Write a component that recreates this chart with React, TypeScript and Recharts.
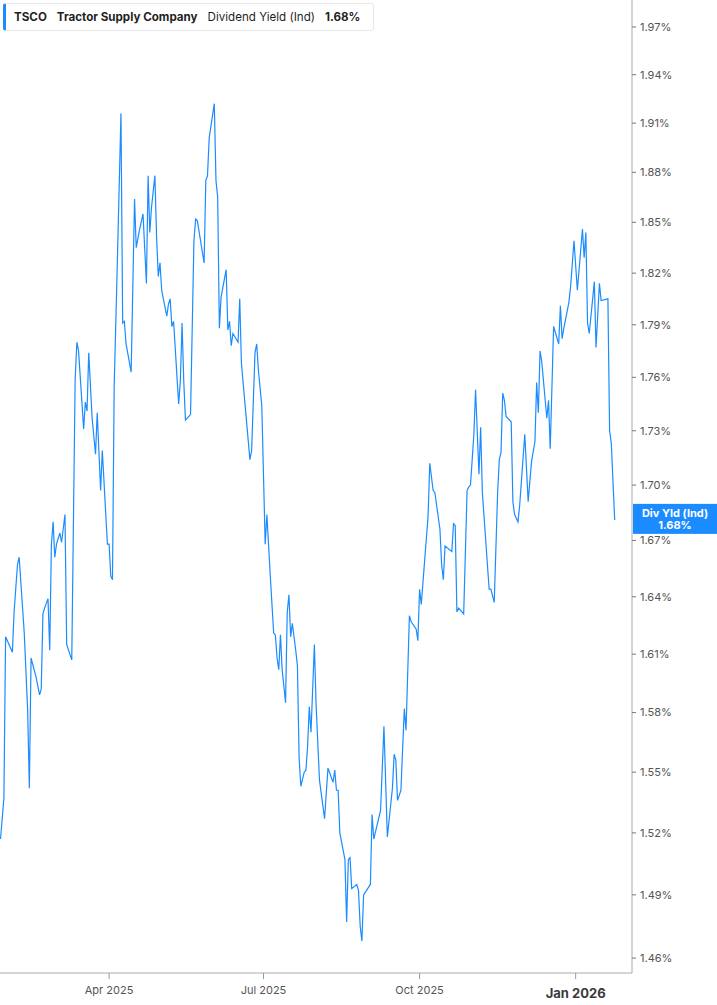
import { LineChart, Line, XAxis, YAxis, ReferenceLine } from 'recharts';

// day offsets from Jan 27 2025 (calendar days)
const days = [
  0, 2, 3, 7, 8, 10, 11, 14, 16, 17, 18, 21, 23, 24, 25, 26, 28, 29, 30, 31,
  32, 33, 35, 36, 38, 39, 42, 44, 45, 46, 49, 50, 51, 52, 54, 56, 57, 59, 60, 63,
  64, 65, 66,
  67, 69, 71, 72, 73, 74, 77, 79, 80, 82, 84, 86, 87, 88, 89, 91, 92, 93, 94, 95,
  98, 99, 100, 101, 102, 105, 106, 107, 108, 109, 112, 114, 115, 116, 120, 121, 122, 123, 126, 127,
  128, 129, 130, 133, 134, 135, 136, 137, 140, 141, 142, 144, 147,
  148, 150, 151, 152, 154, 156, 157, 159, 161, 162, 163, 164, 165, 166, 168, 169, 170, 171, 172, 174,
  175, 176, 177, 179, 180, 181, 182, 183, 185, 186, 188, 191, 193, 196, 197, 198, 199, 200, 203, 204,
  205, 206, 207, 210, 211, 212, 213, 214, 218, 219, 220, 224, 226, 228,
  231, 232, 233, 234, 236, 238, 239, 241, 242, 245, 246, 247, 248, 252, 253, 255, 256, 259, 260, 261,
  262, 266, 267, 268, 269, 270, 273, 275, 276, 277, 279, 280, 282, 283, 284, 288, 289, 291, 293, 294,
  295, 296, 297, 298, 301, 302, 303, 305,
  306, 309, 311, 313, 315, 316, 317, 318, 319, 322, 323, 324, 326, 329, 330, 331, 332, 335, 336, 338,
  340, 343, 344, 345, 346, 347, 350, 351, 353, 354, 358, 359, 360, 362,
];

const yields = [
  1.517, 1.537, 1.619, 1.611, 1.632, 1.657, 1.661, 1.621, 1.581, 1.542,
  1.608, 1.598, 1.589, 1.592, 1.631, 1.634, 1.639, 1.612, 1.668, 1.68,
  1.661, 1.668, 1.674, 1.669, 1.684, 1.615, 1.607, 1.759, 1.78, 1.775,
  1.731, 1.746, 1.741, 1.774, 1.737, 1.717, 1.74, 1.697, 1.719, 1.668,
  1.668, 1.651, 1.649,
  1.755, 1.832, 1.916, 1.791, 1.792, 1.779, 1.763, 1.864, 1.835, 1.846,
  1.855, 1.814, 1.878, 1.844, 1.859, 1.878, 1.841, 1.818, 1.826, 1.81,
  1.795, 1.802, 1.805, 1.789, 1.792, 1.745, 1.758, 1.791, 1.758, 1.736,
  1.739, 1.839, 1.852, 1.851, 1.826, 1.875, 1.878, 1.901, 1.922, 1.875,
  1.865, 1.788, 1.806, 1.822, 1.787, 1.792, 1.778, 1.785, 1.78, 1.805,
  1.768, 1.746, 1.714,
  1.719, 1.774, 1.779, 1.764, 1.744, 1.668, 1.684, 1.651, 1.621, 1.62,
  1.608, 1.602, 1.62, 1.602, 1.585, 1.632, 1.641, 1.619, 1.626, 1.612,
  1.604, 1.557, 1.543, 1.55, 1.551, 1.563, 1.583, 1.57, 1.615, 1.584,
  1.546, 1.527, 1.552, 1.545, 1.551, 1.541, 1.541, 1.52, 1.507, 1.477,
  1.507, 1.508, 1.493, 1.495, 1.492, 1.475, 1.468, 1.49, 1.495, 1.529,
  1.517, 1.531, 1.573, 1.518,
  1.542, 1.559, 1.556, 1.536, 1.541, 1.582, 1.571, 1.63, 1.627, 1.623,
  1.617, 1.644, 1.636, 1.683, 1.712, 1.697, 1.696, 1.676, 1.657, 1.649,
  1.667, 1.664, 1.679, 1.678, 1.632, 1.634, 1.631, 1.697, 1.699, 1.7,
  1.728, 1.753, 1.706, 1.732, 1.696, 1.644, 1.644, 1.637, 1.696, 1.714,
  1.718, 1.751, 1.747, 1.738, 1.735, 1.691, 1.684, 1.68,
  1.689, 1.728, 1.691, 1.713, 1.724, 1.757, 1.74, 1.775, 1.769, 1.737,
  1.747, 1.72, 1.789, 1.779, 1.801, 1.782, 1.788, 1.803, 1.812, 1.839,
  1.81, 1.846, 1.829, 1.844, 1.791, 1.785, 1.815, 1.777, 1.814, 1.804,
  1.805, 1.73, 1.723, 1.681,
];

const xTicks = [64, 155, 247, 339];
const xTickLabels = ['Apr 2025', 'Jul 2025', 'Oct 2025', 'Jan 2026'];
const yTicks = [1.46, 1.49, 1.52, 1.55, 1.58, 1.61, 1.64, 1.67, 1.7, 1.73, 1.76, 1.79, 1.82, 1.85, 1.88, 1.91, 1.94, 1.97];
const lastYield = 1.68;

const data = days.map((day, i) => ({ day, value: yields[i] }));

const BLUE = '#1a8cff';

const XTick = ({ x, y, payload }: any) => {
  const label = xTickLabels[xTicks.indexOf(payload.value)];
  const isYear = label === 'Jan 2026';
  return (
    <text
      x={x}
      y={y + (isYear ? 17 : 13)}
      textAnchor="middle"
      fill={isYear ? '#3a3a3a' : '#555'}
      fontSize={isYear ? 13 : 11}
      fontWeight={isYear ? 700 : 400}
    >
      {label}
    </text>
  );
};

// blue tag sitting on the right axis at the last value
const EndTag = ({ viewBox }: any) => {
  const x = viewBox.x + viewBox.width + 1;
  const y = viewBox.y;
  return (
    <g>
      <rect x={x} y={y - 18} width={85} height={30} fill={BLUE} />
      <text x={x + 42} y={y - 5} textAnchor="middle" fill="#fff" fontSize={11} fontWeight={700}>
        Div Yld (Ind)
      </text>
      <text x={x + 42} y={y + 7} textAnchor="middle" fill="#fff" fontSize={11} fontWeight={700}>
        {lastYield.toFixed(2)}%
      </text>
    </g>
  );
};

export default function App() {
  return (
    <div
      style={{
        position: 'absolute',
        left: 0,
        top: 0,
        width: 717,
        height: 1005,
        background: '#fff',
        fontFamily: 'Inter, sans-serif',
      }}
    >
      <LineChart width={717} height={1005} data={data} margin={{ top: 0, right: 0, bottom: 0, left: 0 }}>
        <XAxis
          dataKey="day"
          type="number"
          domain={[-0.3, 372.2]}
          allowDataOverflow
          ticks={xTicks}
          tick={<XTick />}
          height={32}
          stroke="#aaa"
          tickLine={{ stroke: '#999' }}
          tickSize={6}
        />
        <YAxis
          orientation="right"
          type="number"
          scale="log"
          domain={[1.453, 1.9872]}
          allowDataOverflow
          ticks={yTicks}
          interval={0}
          width={85}
          stroke="#aaa"
          tickLine={{ stroke: '#777' }}
          tickSize={4}
          tickMargin={4}
          tick={{ fill: '#555', fontSize: 11 }}
          tickFormatter={(v: number) => v.toFixed(2) + '%'}
        />
        <Line
          type="linear"
          dataKey="value"
          stroke={BLUE}
          strokeWidth={1.2}
          dot={false}
          activeDot={false}
          isAnimationActive={false}
        />
        <ReferenceLine y={lastYield} stroke="none" label={<EndTag />} />
      </LineChart>

      <div
        style={{
          position: 'absolute',
          left: 3,
          top: 3,
          height: 28,
          width: 371,
          boxSizing: 'border-box',
          background: '#fff',
          border: '1px solid #e8e8e8',
          borderLeft: `3px solid ${BLUE}`,
          borderRadius: 3,
          display: 'flex',
          alignItems: 'center',
          paddingLeft: 8,
          fontSize: 11.6,
          color: '#1f1f1f',
          whiteSpace: 'nowrap',
        }}
      >
        <span style={{ fontWeight: 700 }}>TSCO</span>
        <span style={{ fontWeight: 700, marginLeft: 10 }}>Tractor Supply Company</span>
        <span style={{ marginLeft: 10 }}>Dividend Yield (Ind)</span>
        <span style={{ fontWeight: 700, marginLeft: 10 }}>1.68%</span>
      </div>
    </div>
  );
}
